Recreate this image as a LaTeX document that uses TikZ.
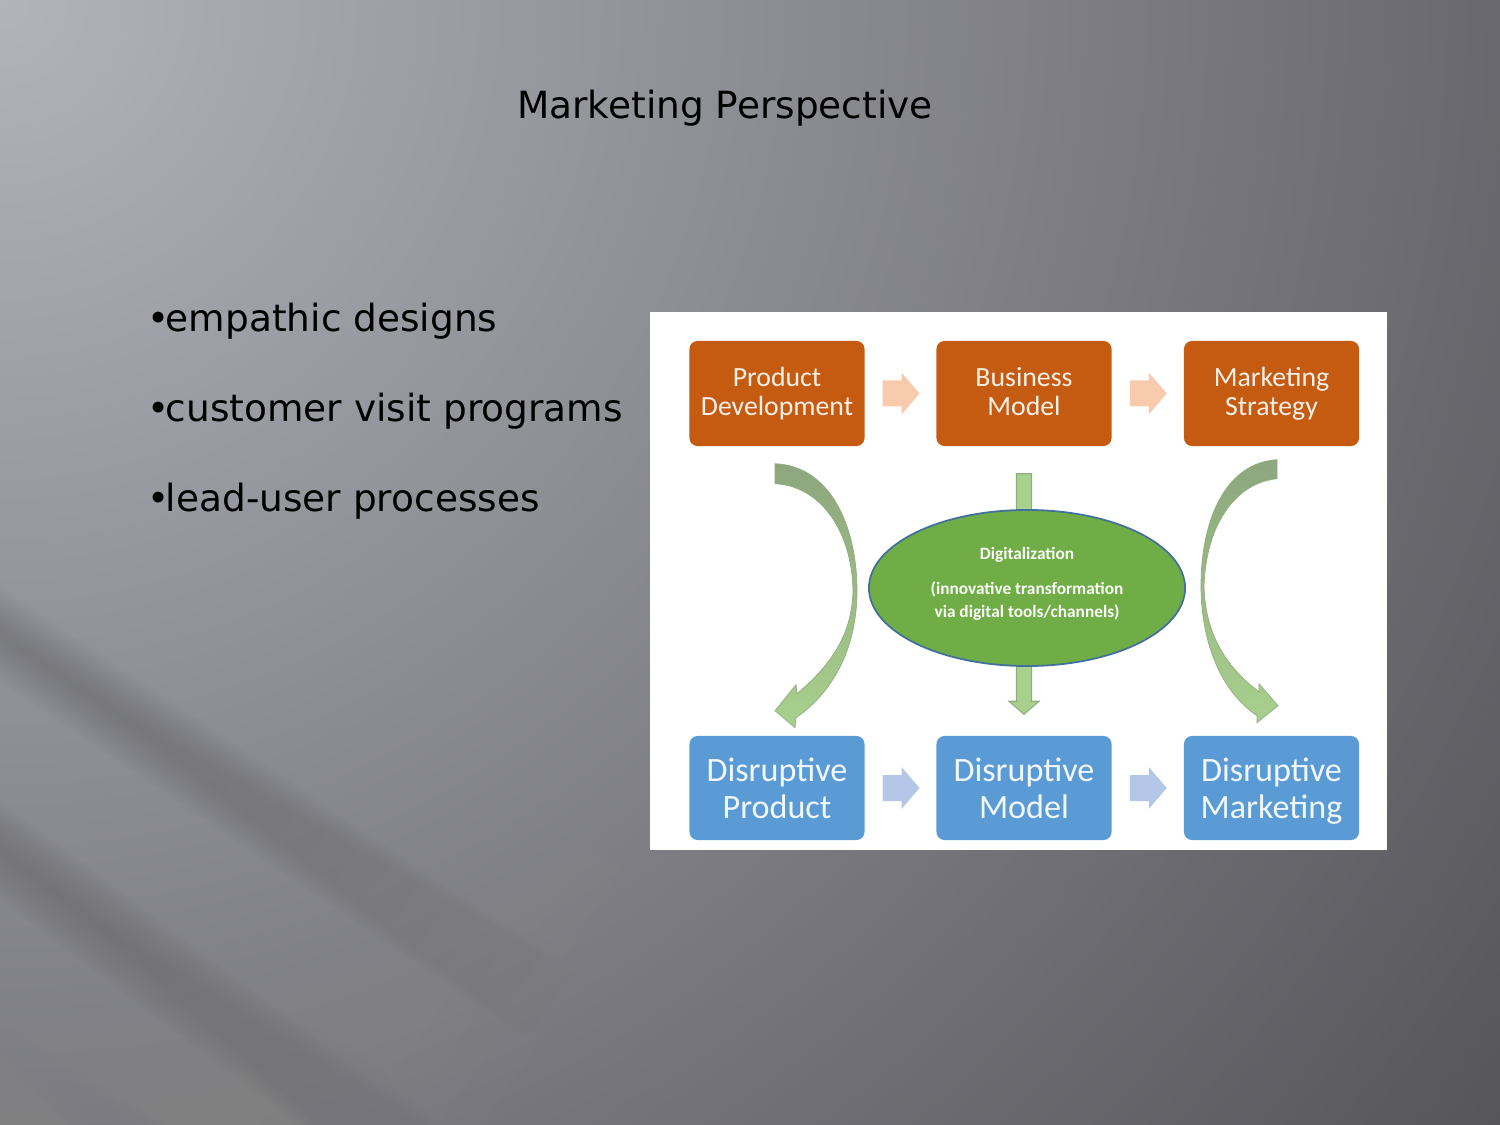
\documentclass[tikz,border=0pt]{standalone}
\usepackage{fontspec}
\setmainfont{DejaVu Sans}
\newfontfamily\carlito{Carlito}
\usetikzlibrary{calc,shapes.geometric}
\definecolor{bgL}{RGB}{178,179,187}
\definecolor{bgR}{RGB}{86,85,90}
\definecolor{orangebox}{HTML}{C55A11}
\definecolor{bluebox}{HTML}{5B9BD5}
\definecolor{peach}{HTML}{F8CBAD}
\definecolor{paleblue}{HTML}{B4C7E7}
\definecolor{ellgreen}{HTML}{70AD47}
\definecolor{ellborder}{HTML}{41719C}
\definecolor{arrgreen}{HTML}{A9D18E}
\definecolor{arredge}{HTML}{8EAE7B}
\definecolor{curvetop}{HTML}{8DA67E}
\definecolor{curvebot}{HTML}{A8D08C}
\definecolor{txtorange}{RGB}{252,240,232}
\definecolor{txtblue}{RGB}{242,247,252}
\pgfdeclareradialshading{bgradial}{\pgfpoint{0bp}{0bp}}{color(0bp)=(bgL); color(25bp)=(bgR); color(50bp)=(bgR)}
% soft streak: x, y, angle, length, half width, colour, opacity per layer
\newcommand{\mystreak}[7]{%
  \begin{scope}[shift={(#1,#2)}, rotate=#3]
    \foreach \w in {1,...,14} {
      \fill[#6, opacity=#7] (0,-#5*\w/14) rectangle ({#4*(0.35+0.65*\w/14)},{#5*\w/14});
    }
  \end{scope}}
\begin{document}
\begin{tikzpicture}[x=0.01cm,y=-0.01cm,
  slidetext/.style={inner sep=0pt, text=black, font=\fontsize{10.65pt}{12pt}\selectfont},
  obox/.style={rectangle, rounded corners=2.3pt, fill=orangebox, text=txtorange, inner sep=0pt,
    minimum width=1.75cm, minimum height=1.05cm, align=center,
    font=\carlito\fontsize{7.9pt}{8.2pt}\selectfont},
  bbox/.style={rectangle, rounded corners=2.3pt, fill=bluebox, text=txtblue, inner sep=0pt,
    minimum width=1.75cm, minimum height=1.04cm, align=center,
    font=\carlito\fontsize{9.7pt}{10.5pt}\selectfont},
  pics/blockarr/.style={code={\fill[#1] (-18,-13) -- (1,-13) -- (1,-21) -- (19,0) -- (1,21) -- (1,13) -- (-18,13) -- cycle;}},
  curvearr/.style={top color=curvetop, bottom color=curvebot, draw=curvetop!80!curvebot, line width=0.2pt}
]
\useasboundingbox (0,0) rectangle (1500,1125);
% background: radial falloff from the top-left corner
\begin{scope}
  \clip (0,0) rectangle (1500,1125);
  \shade[shading=bgradial] (0,0) circle (1875);
  % soft diagonal streaks
  \mystreak{-80}{40}{-36}{950}{110}{white}{0.008}
  \mystreak{-80}{260}{-31}{850}{50}{white}{0.009}
  \mystreak{-80}{480}{-33}{800}{55}{white}{0.009}
  \mystreak{-80}{670}{-36}{720}{65}{white}{0.009}
  \mystreak{-80}{880}{-38}{580}{60}{white}{0.009}
  \mystreak{-80}{1050}{-40}{420}{50}{white}{0.008}
  \mystreak{-80}{580}{-34}{760}{40}{black}{0.006}
  \mystreak{-80}{790}{-37}{650}{40}{black}{0.006}
\end{scope}

% slide text
\node[slidetext, anchor=base] (title) at (725,119) {Marketing Perspective};
\node[slidetext, anchor=base west] (b1) at (147,332) {•\kern-1.1pt empathic designs};
\node[slidetext, anchor=base west] (b2) at (147,422) {•\kern-1.1pt customer visit programs};
\node[slidetext, anchor=base west] (b3) at (147,512) {•\kern-1.1pt lead-user processes};

% picture panel
\node[rectangle, fill=white, inner sep=0pt, minimum width=7.37cm, minimum height=5.38cm] (panel) at (1018.5,581) {};

% boxes
\node[obox] (pd) at (777,393.5) {Product\vphantom{dg}\\Development\vphantom{dg}};
\node[obox] (bm) at (1024,393.5) {Business\vphantom{dg}\\Model\vphantom{dg}};
\node[obox] (ms) at (1271.5,393.5) {Marketing\vphantom{dg}\\Strategy\vphantom{dg}};
\node[bbox] (dp) at (777,788) {\rule{0pt}{8.5pt}Disruptive\vphantom{dg}\\Product\vphantom{dg}};
\node[bbox] (dm) at (1024,788) {\rule{0pt}{8.5pt}Disruptive\vphantom{dg}\\Model\vphantom{dg}};
\node[bbox] (dk) at (1271.5,788) {\rule{0pt}{8.5pt}Disruptive\vphantom{dg}\\Marketing\vphantom{dg}};

% small block arrows
\pic at ($(pd.east)!0.5!(bm.west)$) {blockarr=peach};
\pic at ($(bm.east)!0.5!(ms.west)$) {blockarr=peach};
\pic at ($(dp.east)!0.5!(dm.west)$) {blockarr=paleblue};
\pic at ($(dm.east)!0.5!(dk.west)$) {blockarr=paleblue};

% central vertical arrow (behind ellipse)
\filldraw[fill=arrgreen, draw=arredge, line width=0.3pt]
  ($(bm.south)+(-7.5,27)$) -- ($(bm.south)+(7.5,27)$) -- ($(dm.north)+(7.5,-34)$) -- ($(dm.north)+(15,-34)$)
  -- ($(dm.north)+(0,-21)$) -- ($(dm.north)+(-15,-34)$) -- ($(dm.north)+(-7.5,-34)$) -- cycle;

% ellipse
\node[ellipse, fill=ellgreen, draw=ellborder, line width=0.5pt, inner sep=0pt,
      minimum width=3.16cm, minimum height=1.56cm] (dg) at (1027,588) {};
\node[inner sep=0pt, align=center, text=white!96!ellgreen,
      font=\carlito\bfseries\fontsize{4.92pt}{6.7pt}\selectfont] (dgtext) at ($(dg.center)+(0,-4)$)
  {Digitalization\\[3.3pt](innovative transformation\\via digital tools/channels)};

% curved arrows
\begin{scope}[shift={($(pd.south)+(-777,-446)$)}]
\shade[curvearr] (775,463) .. controls (830,465) and (857,525) .. (857,590)
  .. controls (857,645) and (835,690) .. (796,717) -- (795,727) -- (775,710) -- (796,684) -- (797,693)
  .. controls (830,665) and (852,635) .. (853,590)
  .. controls (852,530) and (820,485) .. (775,483) -- cycle;
\end{scope}
\begin{scope}[shift={($(ms.south)+(-1271.5,-446)$)}]
\shade[curvearr] (1277,459) .. controls (1225,462) and (1201,520) .. (1201,585)
  .. controls (1201,640) and (1220,690) .. (1257,715) -- (1257,722) -- (1278,705) -- (1259,683) -- (1259,691)
  .. controls (1228,668) and (1205,635) .. (1204,585)
  .. controls (1206,525) and (1235,482) .. (1277,478) -- cycle;
\end{scope}
\end{tikzpicture}
\end{document}
